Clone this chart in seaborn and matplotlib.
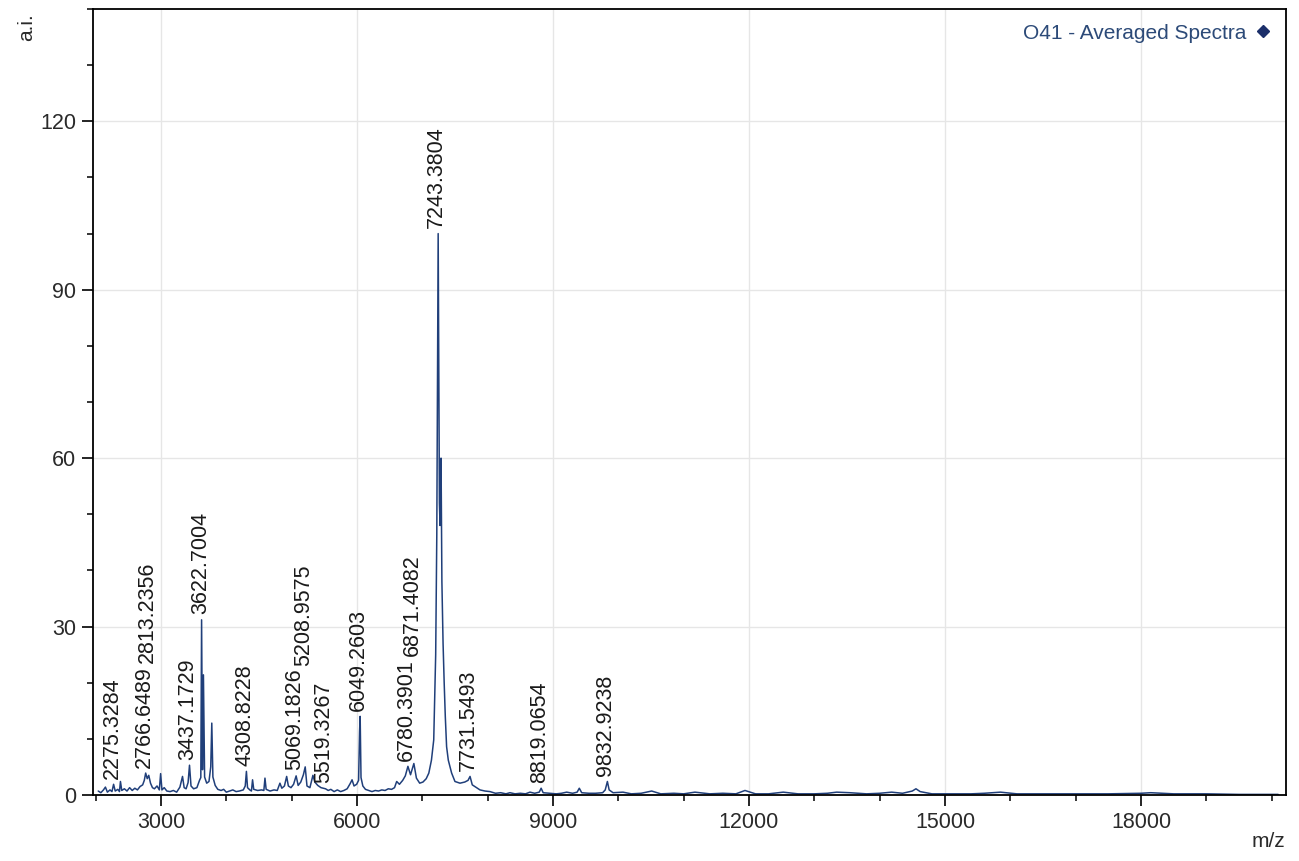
import numpy as np
import pandas as pd
import matplotlib
matplotlib.use("Agg")
import matplotlib.pyplot as plt
from matplotlib.lines import Line2D
from matplotlib.ticker import MultipleLocator
import seaborn as sns


SERIES = "O41 - Averaged Spectra"

# spectrum trace (m/z, a.i.)
MZ = [
    2040, 2080, 2120, 2150, 2180, 2220, 2250, 2275, 2300, 2340,
    2365, 2380, 2400, 2440, 2480, 2520, 2560, 2600, 2640, 2680,
    2720, 2745, 2766, 2790, 2813, 2840, 2870, 2900, 2940, 2975,
    2995, 3015, 3050, 3090, 3140, 3190, 3240, 3290, 3330, 3355,
    3385, 3415, 3437, 3460, 3500, 3550, 3590, 3610, 3622, 3636,
    3650, 3668, 3700, 3735, 3762, 3778, 3795, 3830, 3870, 3920,
    3960, 4000, 4050, 4100, 4150, 4200, 4260, 4290, 4308, 4325,
    4360, 4385, 4402, 4420, 4480, 4540, 4575, 4592, 4610, 4670,
    4730, 4780, 4821, 4850, 4890, 4924, 4950, 4990, 5030, 5069,
    5100, 5140, 5180, 5208, 5235, 5280, 5326, 5355, 5400, 5450,
    5519, 5560, 5600, 5650, 5700, 5750, 5800, 5850, 5895, 5925,
    5955, 5995, 6025, 6040, 6049, 6062, 6090, 6130, 6180, 6230,
    6280, 6330, 6380, 6430, 6480, 6530, 6575, 6608, 6650, 6700,
    6740, 6780, 6820, 6871, 6910, 6960, 7010, 7060, 7100, 7140,
    7175, 7205, 7222, 7243, 7262, 7272, 7287, 7300, 7318, 7335,
    7352, 7372, 7398, 7449, 7500, 7577, 7650, 7700, 7731, 7765,
    7830, 7883, 7960, 8036, 8120, 8200, 8280, 8342, 8420, 8500,
    8580, 8648, 8720, 8790, 8819, 8850, 8950, 9050, 9130, 9210,
    9300, 9370, 9403, 9440, 9550, 9650, 9760, 9800, 9833, 9860,
    9920, 10072, 10200, 10350, 10511, 10650, 10850, 11000, 11173, 11400,
    11600, 11800, 11939, 12100, 12300, 12525, 12750, 13000, 13200, 13342,
    13546, 13800, 14000, 14184, 14350, 14500, 14556, 14620, 14800, 15100,
    15400, 15600, 15850, 16100, 16500, 17000, 17500, 18000, 18150, 18500,
    19000, 19500, 20100,
]
INTENSITY = [
    0.7, 0.4, 0.9, 1.4, 0.5, 0.9, 0.6, 1.9, 0.7, 1.0,
    0.6, 2.4, 0.8, 1.1, 0.7, 1.3, 0.8, 1.2, 0.9, 1.5,
    1.8, 2.6, 3.9, 2.9, 3.5, 2.1, 1.3, 1.1, 1.6, 0.9,
    3.8, 0.9, 1.3, 0.7, 0.6, 0.8, 0.5, 1.4, 3.3, 1.3,
    1.1, 2.2, 5.3, 1.6, 1.1, 1.3, 2.6, 3.1, 31.2, 4.5,
    21.4, 3.2, 2.1, 2.4, 5.0, 12.8, 3.2, 1.7, 1.0, 0.8,
    1.0, 0.5, 0.7, 0.9, 0.6, 0.7, 0.9, 1.6, 4.2, 1.3,
    0.9, 0.7, 2.7, 1.0, 0.8, 0.9, 0.8, 3.0, 1.0, 0.7,
    0.9, 0.8, 2.1, 1.2, 1.6, 3.3, 1.6, 1.3, 1.9, 3.4,
    1.7, 2.3, 3.6, 5.0, 1.6, 1.3, 3.5, 2.3, 1.7, 1.3,
    1.1, 0.8, 1.0, 0.6, 0.9, 0.6, 0.8, 1.1, 2.0, 2.7,
    1.6, 1.9, 2.6, 11.3, 14.0, 3.1, 1.6, 1.0, 0.8, 0.6,
    0.8, 0.7, 0.9, 0.8, 1.1, 1.0, 1.3, 2.4, 1.9, 2.6,
    3.4, 5.1, 3.6, 5.6, 3.0, 2.1, 2.3, 2.9, 3.9, 6.2,
    9.8, 25.0, 46.4, 100.0, 52.0, 48.0, 60.0, 38.0, 27.0, 20.0,
    14.0, 8.6, 6.2, 3.9, 2.4, 2.1, 2.3, 2.6, 3.3, 1.8,
    1.3, 0.9, 0.7, 0.6, 0.3, 0.4, 0.2, 0.4, 0.2, 0.3,
    0.2, 0.5, 0.3, 0.5, 1.2, 0.4, 0.3, 0.2, 0.3, 0.5,
    0.3, 0.5, 1.2, 0.4, 0.3, 0.3, 0.4, 0.9, 2.4, 0.9,
    0.4, 0.5, 0.2, 0.3, 0.7, 0.2, 0.3, 0.2, 0.5, 0.2,
    0.3, 0.2, 0.8, 0.2, 0.2, 0.5, 0.2, 0.2, 0.3, 0.5,
    0.4, 0.2, 0.3, 0.5, 0.3, 0.7, 1.1, 0.6, 0.2, 0.2,
    0.2, 0.3, 0.5, 0.2, 0.2, 0.2, 0.2, 0.3, 0.4, 0.2,
    0.2, 0.1, 0.1,
]

# annotated peaks
PEAK_MZ = [
    2275.3284, 2766.6489, 2813.2356, 3437.1729, 3622.7004, 4308.8228,
    5069.1826, 5208.9575, 5519.3267, 6049.2603, 6780.3901, 6871.4082,
    7243.3804, 7731.5493, 8819.0654, 9832.9238,
]

X_MAJOR = [3000, 6000, 9000, 12000, 15000, 18000]
Y_MAJOR = [0, 30, 60, 90, 120]

LINE = "#203f7a"
FONT = ["Liberation Sans", "DejaVu Sans"]

sns.set_theme(style="white")
plt.rcParams["font.family"] = FONT

df = pd.DataFrame({"mz": MZ, "ai": INTENSITY})

fig = plt.figure(figsize=(12.99, 8.61), dpi=100)
ax = fig.add_axes([0.0716, 0.0767, 0.9184, 0.9128])

sns.lineplot(data=df, x="mz", y="ai", ax=ax, color=LINE, lw=1.1,
             estimator=None, sort=False, legend=False)

ax.set_xlim(1960, 20220)
ax.set_ylim(0, 140)
ax.set_xticks(X_MAJOR)
ax.set_yticks(Y_MAJOR)
ax.xaxis.set_minor_locator(MultipleLocator(1000))
ax.yaxis.set_minor_locator(MultipleLocator(10))
ax.grid(True, which="major", color="#e6e6e6", lw=1)
ax.set_axisbelow(True)
ax.set_xlabel("")
ax.set_ylabel("")

for s in ax.spines.values():
    s.set_color("black")
    s.set_linewidth(1.3)
    s.set_visible(True)

ax.tick_params(which="major", direction="out", length=8, width=1.2,
               color="black", labelsize=15.5, labelcolor="#2a2a2a", pad=4,
               bottom=True, left=True)
ax.tick_params(which="minor", direction="out", length=4, width=1.1,
               color="black", bottom=True, left=True)

# peak labels, stacked upward where they collide
fig.canvas.draw()
renderer = fig.canvas.get_renderer()
mz_arr = np.array(MZ, dtype=float)
ai_arr = np.array(INTENSITY)
placed = []
for pm in PEAK_MZ:
    near = np.abs(mz_arr - pm) <= 30
    top = ai_arr[near].max()
    t = ax.annotate(f"{pm:.4f}", xy=(pm, top), xytext=(-1, 4),
                    textcoords="offset points", rotation=90,
                    ha="center", va="bottom", fontsize=15.5, color="#1a1a1a")
    bb = t.get_window_extent(renderer)
    for pb in placed:
        if bb.overlaps(pb):
            dy = (pb.y1 - bb.y0 + 3) * 72 / fig.dpi
            x0, y0 = t.xyann
            t.xyann = (x0, y0 + dy)
            bb = t.get_window_extent(renderer)
    placed.append(bb)

handle = Line2D([], [], ls="none", marker="D", ms=6, color="#1c2f6a")
ax.legend([handle], [SERIES], loc="upper right", frameon=False,
          markerfirst=False, fontsize=15, labelcolor="#2c4a78",
          handletextpad=0.4, borderaxespad=0.3, handlelength=0.8)

fig.text(0.013, 0.985, "a.i.", rotation=90, ha="left", va="top",
         fontsize=15, color="#2a2a2a")
fig.text(0.989, 0.012, "m/z", ha="right", va="bottom",
         fontsize=15, color="#2a2a2a")

fig.savefig("out.png", dpi=100)
